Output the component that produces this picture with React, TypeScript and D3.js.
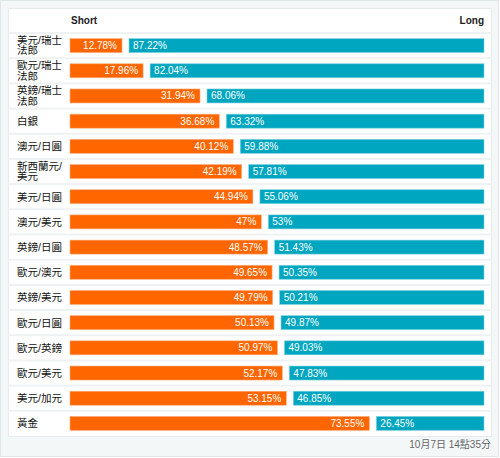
import React from "react";
import * as d3 from "d3";

const categories: string[][] = [
  ["美元/瑞士", "法郎"],
  ["歐元/瑞士", "法郎"],
  ["英鎊/瑞士", "法郎"],
  ["白銀"],
  ["澳元/日圓"],
  ["新西蘭元/", "美元"],
  ["美元/日圓"],
  ["澳元/美元"],
  ["英鎊/日圓"],
  ["歐元/澳元"],
  ["英鎊/美元"],
  ["歐元/日圓"],
  ["歐元/英鎊"],
  ["歐元/美元"],
  ["美元/加元"],
  ["黃金"],
];
const shortValues = [12.78, 17.96, 31.94, 36.68, 40.12, 42.19, 44.94, 47, 48.57, 49.65, 49.79, 50.13, 50.97, 52.17, 53.15, 73.55];
const longValues = [87.22, 82.04, 68.06, 63.32, 59.88, 57.81, 55.06, 53, 51.43, 50.35, 50.21, 49.87, 49.03, 47.83, 46.85, 26.45];
const headers = ["Short", "Long"];
const timestamp = "10月7日 14點35分";

const W = 500;
const H = 458;
const FONT = "'Liberation Sans', Arial, 'Noto Sans CJK TC', sans-serif";

export default function App() {
  const panel = { x: 8.5, y: 8.5, w: 483, h: 428 };
  const headerH = 24.5;
  const rowTop = panel.y + headerH;
  const rowsBottom = 436;
  const barX0 = 70;
  const gap = 7;
  const fullW = 414 - gap;
  const x = d3.scaleLinear().domain([0, 100]).range([0, fullW]);
  const y = d3
    .scaleBand<number>()
    .domain(d3.range(categories.length))
    .range([rowTop, rowsBottom])
    .paddingInner(0);
  const barH = 14;
  const fmt = (v: number) => `${v}%`;

  return (
    <svg
      width={W}
      height={H}
      style={{ position: "absolute", left: 0, top: 0, fontFamily: FONT }}
    >
      <rect x={0.5} y={0.5} width={W - 2} height={H - 2} fill="#f4f7f8" stroke="#dfe6e8" />
      <rect x={panel.x} y={panel.y} width={panel.w} height={panel.h} fill="#ffffff" stroke="#e6ebec" />
      <text x={barX0 + 1} y={panel.y + 15} fontSize={10} fontWeight="bold" fill="#222">
        {headers[0]}
      </text>
      <text x={barX0 + 414} y={panel.y + 15} fontSize={10} fontWeight="bold" fill="#222" textAnchor="end">
        {headers[1]}
      </text>
      {categories.map((lines, i) => {
        const top = y(i)!;
        const bw = y.bandwidth();
        const cy = top + bw / 2;
        const sw = x(shortValues[i]);
        const lx = barX0 + sw + gap;
        const lw = x(longValues[i]);
        return (
          <g key={i}>
            <rect x={panel.x} y={top - 1} width={panel.w} height={2} fill="#eff1f2" />
            {lines.map((ln, j) => (
              <text
                key={j}
                x={17}
                y={cy + (lines.length === 1 ? 4 : j === 0 ? -1.8 : 8.8)}
                fontSize={10.5}
                fill="#111"
              >
                {ln}
              </text>
            ))}
            <rect x={barX0} y={cy - barH / 2} width={sw} height={barH} fill="#ff6600" stroke="#ffb080" strokeWidth={0.6} />
            <text x={barX0 + sw - 5} y={cy + 3.5} fontSize={10} fill="#ffffff" textAnchor="end">
              {fmt(shortValues[i])}
            </text>
            <rect x={lx} y={cy - barH / 2} width={lw} height={barH} fill="#00a6bf" stroke="#80d2de" strokeWidth={0.6} />
            <text x={lx + 4} y={cy + 3.5} fontSize={10} fill="#ffffff">
              {fmt(longValues[i])}
            </text>
          </g>
        );
      })}
      <text x={491} y={448} fontSize={10} fill="#666" textAnchor="end">
        {timestamp}
      </text>
    </svg>
  );
}
